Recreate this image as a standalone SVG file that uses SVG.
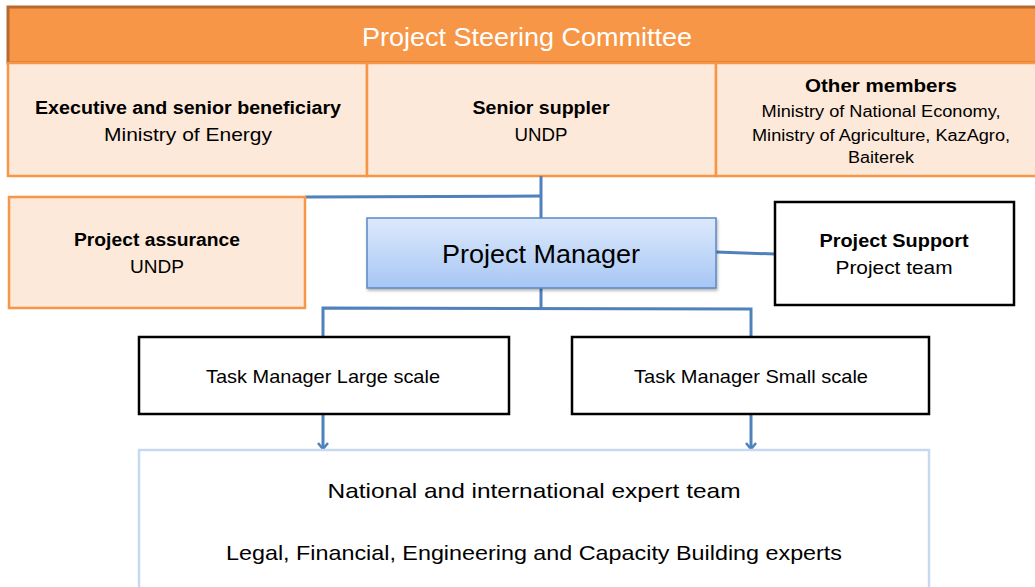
<svg xmlns="http://www.w3.org/2000/svg" width="1035" height="587" viewBox="0 0 1035 587">
<defs>
<style>
text{font-family:"Liberation Sans",Arial,sans-serif;fill:#000;text-anchor:middle}
.b{font-weight:bold}
.cell{fill:#FDE9D9;stroke:#F79646;stroke-width:2.5}
.blk{fill:#fff;stroke:#000;stroke-width:2.5}
.con{fill:none;stroke:#4F81BD;stroke-width:3}
</style>
<linearGradient id="pmg" x1="0" y1="0" x2="0" y2="1">
<stop offset="0" stop-color="#DDE9FC"/>
<stop offset="1" stop-color="#A7C6F4"/>
</linearGradient>
<filter id="sh" x="-5%" y="-10%" width="110%" height="130%">
<feDropShadow dx="1" dy="2" stdDeviation="1.5" flood-color="#000" flood-opacity="0.3"/>
</filter>
<marker id="arr" viewBox="0 0 12 12" refX="10" refY="6" markerWidth="12" markerHeight="12" markerUnits="userSpaceOnUse" orient="auto">
<path d="M4,1 L10,6 L4,11" fill="none" stroke="#4F81BD" stroke-width="2.5"/>
</marker>
</defs>

<g id="steering-committee">
<rect x="8" y="7" width="1030" height="56" fill="#F79646" stroke="#B7692E" stroke-width="3"/>
<text x="527" y="46" font-size="26" style="fill:#fff" textLength="330" lengthAdjust="spacingAndGlyphs">Project Steering Committee</text>
</g>

<g id="executive">
<rect class="cell" x="8" y="63" width="359" height="113"/>
<text class="b" x="188" y="114" font-size="18" textLength="306" lengthAdjust="spacingAndGlyphs">Executive and senior beneficiary</text>
<text x="188" y="141" font-size="19" textLength="168" lengthAdjust="spacingAndGlyphs">Ministry of Energy</text>
</g>

<g id="senior-supplier">
<rect class="cell" x="367" y="63" width="349" height="113"/>
<text class="b" x="541" y="114" font-size="18" textLength="137" lengthAdjust="spacingAndGlyphs">Senior suppler</text>
<text x="541" y="141" font-size="19" textLength="53" lengthAdjust="spacingAndGlyphs">UNDP</text>
</g>

<g id="other-members">
<rect class="cell" x="716" y="63" width="322" height="113"/>
<text class="b" x="881" y="92" font-size="18" textLength="152" lengthAdjust="spacingAndGlyphs">Other members</text>
<text x="881" y="117" font-size="16" textLength="239" lengthAdjust="spacingAndGlyphs">Ministry of National Economy,</text>
<text x="881" y="141" font-size="16" textLength="258" lengthAdjust="spacingAndGlyphs">Ministry of Agriculture, KazAgro,</text>
<text x="881" y="163" font-size="16" textLength="66" lengthAdjust="spacingAndGlyphs">Baiterek</text>
</g>

<g id="connectors">
<polyline class="con" points="305,197 541,196"/>
<line class="con" x1="541" y1="176" x2="541" y2="218"/>
<line class="con" x1="716" y1="252" x2="775" y2="254"/>
<line class="con" x1="541" y1="288" x2="541" y2="308"/>
<polyline class="con" points="323,337 323,308 751,309 751,337"/>
<line class="con" x1="323" y1="415" x2="323" y2="449" marker-end="url(#arr)"/>
<line class="con" x1="751" y1="415" x2="751" y2="449" marker-end="url(#arr)"/>
</g>

<g id="project-assurance">
<rect class="cell" x="9" y="197" width="296" height="111"/>
<text class="b" x="157" y="246" font-size="18" textLength="166" lengthAdjust="spacingAndGlyphs">Project assurance</text>
<text x="157" y="273" font-size="19" textLength="54" lengthAdjust="spacingAndGlyphs">UNDP</text>
</g>

<g id="project-manager">
<rect x="367" y="218" width="349" height="70" fill="url(#pmg)" stroke="#5A89C6" stroke-width="1.5" filter="url(#sh)"/>
<text x="541" y="263" font-size="26" textLength="198" lengthAdjust="spacingAndGlyphs">Project Manager</text>
</g>

<g id="project-support">
<rect class="blk" x="775" y="202" width="239" height="103"/>
<text class="b" x="894" y="247" font-size="18" textLength="149" lengthAdjust="spacingAndGlyphs">Project Support</text>
<text x="894" y="274" font-size="19" textLength="117" lengthAdjust="spacingAndGlyphs">Project team</text>
</g>

<g id="task-manager-large">
<rect class="blk" x="139" y="337" width="370" height="77"/>
<text x="323" y="383" font-size="19" textLength="234" lengthAdjust="spacingAndGlyphs">Task Manager Large scale</text>
</g>

<g id="task-manager-small">
<rect class="blk" x="572" y="337" width="357" height="77"/>
<text x="751" y="383" font-size="19" textLength="234" lengthAdjust="spacingAndGlyphs">Task Manager Small scale</text>
</g>

<g id="expert-team">
<rect x="139" y="450" width="790" height="150" fill="#fff" stroke="#C6D9F1" stroke-width="2.5"/>
<text x="534" y="498" font-size="21" textLength="413" lengthAdjust="spacingAndGlyphs">National and international expert team</text>
<text x="534" y="560" font-size="21" textLength="616" lengthAdjust="spacingAndGlyphs">Legal, Financial, Engineering and Capacity Building experts</text>
</g>
</svg>
